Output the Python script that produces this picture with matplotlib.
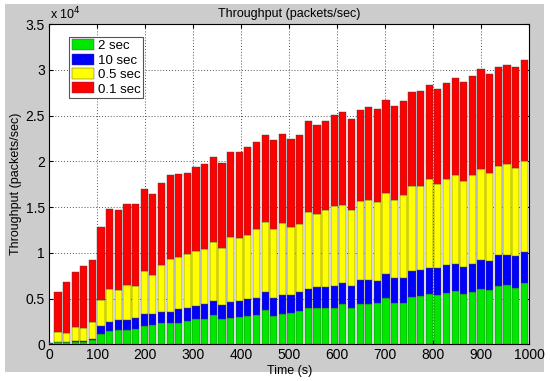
import matplotlib.pyplot as plt
from matplotlib.patches import Rectangle
import numpy as np

plt.rcParams['font.family'] = ['Liberation Sans', 'DejaVu Sans']

# time of each sample (s)
time_s = np.arange(0, 991, 18)

# throughput per series, packets/sec (stacked bottom to top)
thr_2sec = [0, 200, 200, 250, 250, 450, 1090, 1420, 1570, 1570, 1680, 2040, 2120, 2330,
            2300, 2370, 2550, 2810, 2810, 3210, 2740, 2920, 3030, 3100, 3210, 3760, 3140,
            3320, 3390, 3650, 4010, 3980, 4010, 4010, 4380, 3980, 4410, 4450, 4560, 5110,
            4560, 4490, 5170, 5320, 5510, 5400, 5650, 5800, 5540, 5690, 6090, 5940, 6420,
            6490, 6160, 6710]
thr_10sec = [0, 100, 100, 100, 100, 100, 880, 1020, 1090, 1090, 1160, 1320, 1240, 1240,
             1270, 1500, 1460, 1380, 1600, 1530, 1600, 1750, 1670, 1860, 1900, 2000, 1970,
             2080, 2010, 2080, 2080, 2330, 2230, 2340, 2290, 2370, 2590, 2590, 2410, 2550,
             2660, 2770, 2830, 2810, 2880, 2990, 2990, 2950, 2960, 3100, 3170, 3210, 3320,
             3320, 3470, 3430]
thr_05sec = [0, 1010, 940, 1510, 1440, 1930, 2920, 3650, 3250, 3830, 3580, 4660, 4230, 5110,
             5730, 5720, 5840, 6020, 5950, 6420, 6200, 7040, 6930, 7000, 7540, 7620, 7510,
             7910, 7470, 7440, 8350, 7950, 8460, 8750, 8570, 8310, 8610, 8750, 8600, 8860,
             8570, 9080, 9310, 9190, 9630, 9080, 9380, 9740, 9330, 9660, 9920, 9600, 9770,
             9850, 9630, 9850]
thr_01sec = [110, 4380, 5540, 6090, 6740, 6710, 7980, 8680, 8820, 8860, 8930, 8980, 8820, 8930,
             9150, 9010, 8900, 9190, 9300, 9300, 9300, 9260, 9410, 9630, 9450, 9450, 9700,
             9630, 9560, 9660, 9920, 9700, 9700, 9950, 10110, 9960, 10030, 10100, 10100, 10140,
             10210, 10250, 10260, 10320, 10350, 10430, 10570, 10610, 10800, 10830, 10870, 10750,
             10830, 10900, 11010, 11050]

series = [('2 sec', thr_2sec, '#00e800'),
          ('10 sec', thr_10sec, '#0000ff'),
          ('0.5 sec', thr_05sec, '#ffff00'),
          ('0.1 sec', thr_01sec, '#ff0000')]

fig = plt.figure(figsize=(5.5, 3.81), dpi=100)
fig.patches.append(Rectangle((5 / 550, 1 - 372 / 381), 539 / 550, 368 / 381,
                             transform=fig.transFigure, facecolor='#cccccc',
                             edgecolor='none', zorder=-10))
ax = fig.add_axes([0.0896, 0.0963, 0.8722, 0.8407])

bottom = np.zeros(len(time_s))
for name, vals, col in series:
    vals = np.array(vals) / 1e4
    ax.bar(time_s, vals, width=15, bottom=bottom, color=col, edgecolor='#444444',
           linewidth=0.3, label=name, zorder=3)
    bottom = bottom + vals

ax.set_xlim(0, 1000)
ax.set_ylim(0, 3.5)
ax.set_xticks(np.arange(0, 1001, 100))
ax.set_yticks(np.arange(0, 3.51, 0.5))
ax.set_yticklabels(['0', '0.5', '1', '1.5', '2', '2.5', '3', '3.5'])
ax.grid(True, linestyle=(0, (1, 2)), color='#555555', linewidth=0.7, zorder=0)
ax.tick_params(direction='in', length=3, labelsize=10, top=True, right=True, pad=3)
for s in ax.spines.values():
    s.set_linewidth(0.8)

ax.set_title('Throughput (packets/sec)', fontsize=9, pad=5)
ax.set_xlabel('Time (s)', fontsize=9, labelpad=2)
ax.set_ylabel('Throughput (packets/sec)', fontsize=9, labelpad=3)
fig.text(50 / 550, 1 - 19 / 381, r'x 10$^4$', fontsize=9, va='baseline')

leg = ax.legend(loc='upper left', bbox_to_anchor=(0.041, 0.96), fontsize=9.5,
                fancybox=False, edgecolor='#555555', framealpha=1,
                handlelength=1.7, handleheight=0.9, borderpad=0.2,
                borderaxespad=0, labelspacing=0.1, handletextpad=0.3)
leg.get_frame().set_linewidth(0.8)

fig.savefig('out.png', dpi=100)
